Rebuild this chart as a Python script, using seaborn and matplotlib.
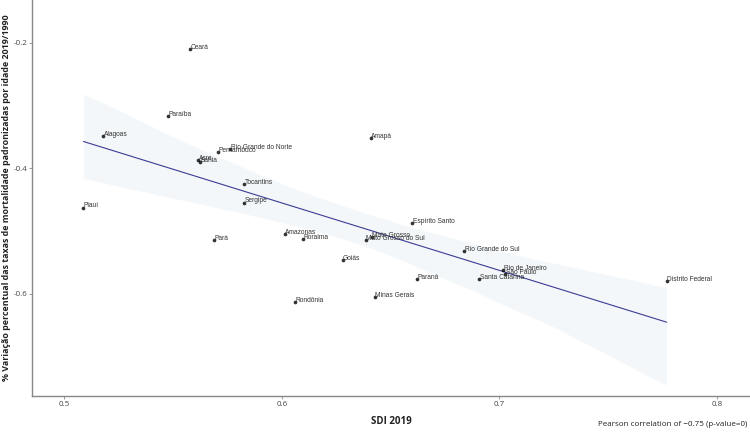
import matplotlib
matplotlib.use("Agg")
import matplotlib.pyplot as plt
import pandas as pd
import seaborn as sns

# states, SDI 2019 and % change in age-standardised mortality 2019/1990
states = ["Ceará", "Paraíba", "Alagoas", "Rio Grande do Norte", "Pernambuco",
          "Acre", "Bahia", "Amapá", "Tocantins", "Sergipe", "Piauí", "Pará",
          "Amazonas", "Roraima", "Mato Grosso", "Mato Grosso do Sul",
          "Espírito Santo", "Goiás", "Rio Grande do Sul", "Paraná",
          "Minas Gerais", "Rondônia", "Rio de Janeiro", "São Paulo",
          "Santa Catarina", "Distrito Federal"]
sdi = [0.5579, 0.5479, 0.5181, 0.5763, 0.5709,
       0.5616, 0.5625, 0.6410, 0.5827, 0.5827, 0.5089, 0.5689,
       0.6015, 0.6099, 0.6415, 0.6387,
       0.6600, 0.6280, 0.6839, 0.6620,
       0.6427, 0.6060, 0.7018, 0.7026,
       0.6908, 0.7768]
change = [-0.2096, -0.3163, -0.3482, -0.3697, -0.3742,
          -0.3865, -0.3896, -0.3514, -0.4247, -0.4545, -0.4624, -0.5139,
          -0.5049, -0.5123, -0.5092, -0.5139,
          -0.4873, -0.5458, -0.5315, -0.5761,
          -0.6053, -0.6123, -0.5618, -0.5681,
          -0.5761, -0.5793]

df = pd.DataFrame({"state": states, "sdi": sdi, "change": change})

sns.set_style("white")
plt.rcParams["font.family"] = ["Open Sans", "DejaVu Sans"]

fig = plt.figure(figsize=(7.5, 4.33), dpi=100)
ax = fig.add_axes([0.0427, 0.0855, 0.9573, 0.9145])

sns.regplot(data=df, x="sdi", y="change", ax=ax, ci=95, seed=0,
            scatter_kws={"s": 7, "color": "black", "zorder": 4, "linewidths": 0},
            line_kws={"color": "#3c3c96", "lw": 0.8})
# lighten the confidence band
for coll in ax.collections[1:]:
    coll.set_facecolor("#e3ecf2")
    coll.set_alpha(0.4)

for _, r in df.iterrows():
    ax.annotate(r["state"], (r["sdi"], r["change"]), xytext=(0.3, 1.2),
                textcoords="offset points", ha="left", va="center",
                fontsize=4.8, color="#333333", family="Liberation Sans", zorder=5)

ax.set_xlim(0.4853, 0.8151)
ax.set_ylim(-0.7626, -0.1315)
ax.set_xticks([0.5, 0.6, 0.7, 0.8])
ax.set_yticks([-0.2, -0.4, -0.6])
ax.set_xticklabels(["0.5", "0.6", "0.7", "0.8"])
ax.set_yticklabels(["-0.2", "-0.4", "-0.6"])
ax.tick_params(axis="both", length=2, width=0.6, color="#888888",
               labelsize=5.8, labelcolor="#444444", pad=1.5, bottom=True, left=True)
for side in ["top", "right"]:
    ax.spines[side].set_visible(False)
for side in ["left", "bottom"]:
    ax.spines[side].set_color("#888888")
    ax.spines[side].set_linewidth(1.0)

ax.set_xlabel("SDI 2019", fontsize=7, fontweight="bold", color="#222222", labelpad=6)
ax.set_ylabel("% Variação percentual das taxas de mortalidade padronizadas por idade 2019/1990",
              fontsize=6.4, fontweight="bold", color="#222222", labelpad=2)

fig.text(0.997, 0.012, "Pearson correlation of \u22120.75 (p-value=0)",
         ha="right", va="bottom", fontsize=5.8, color="#222222")

fig.savefig("out.png", dpi=100)
